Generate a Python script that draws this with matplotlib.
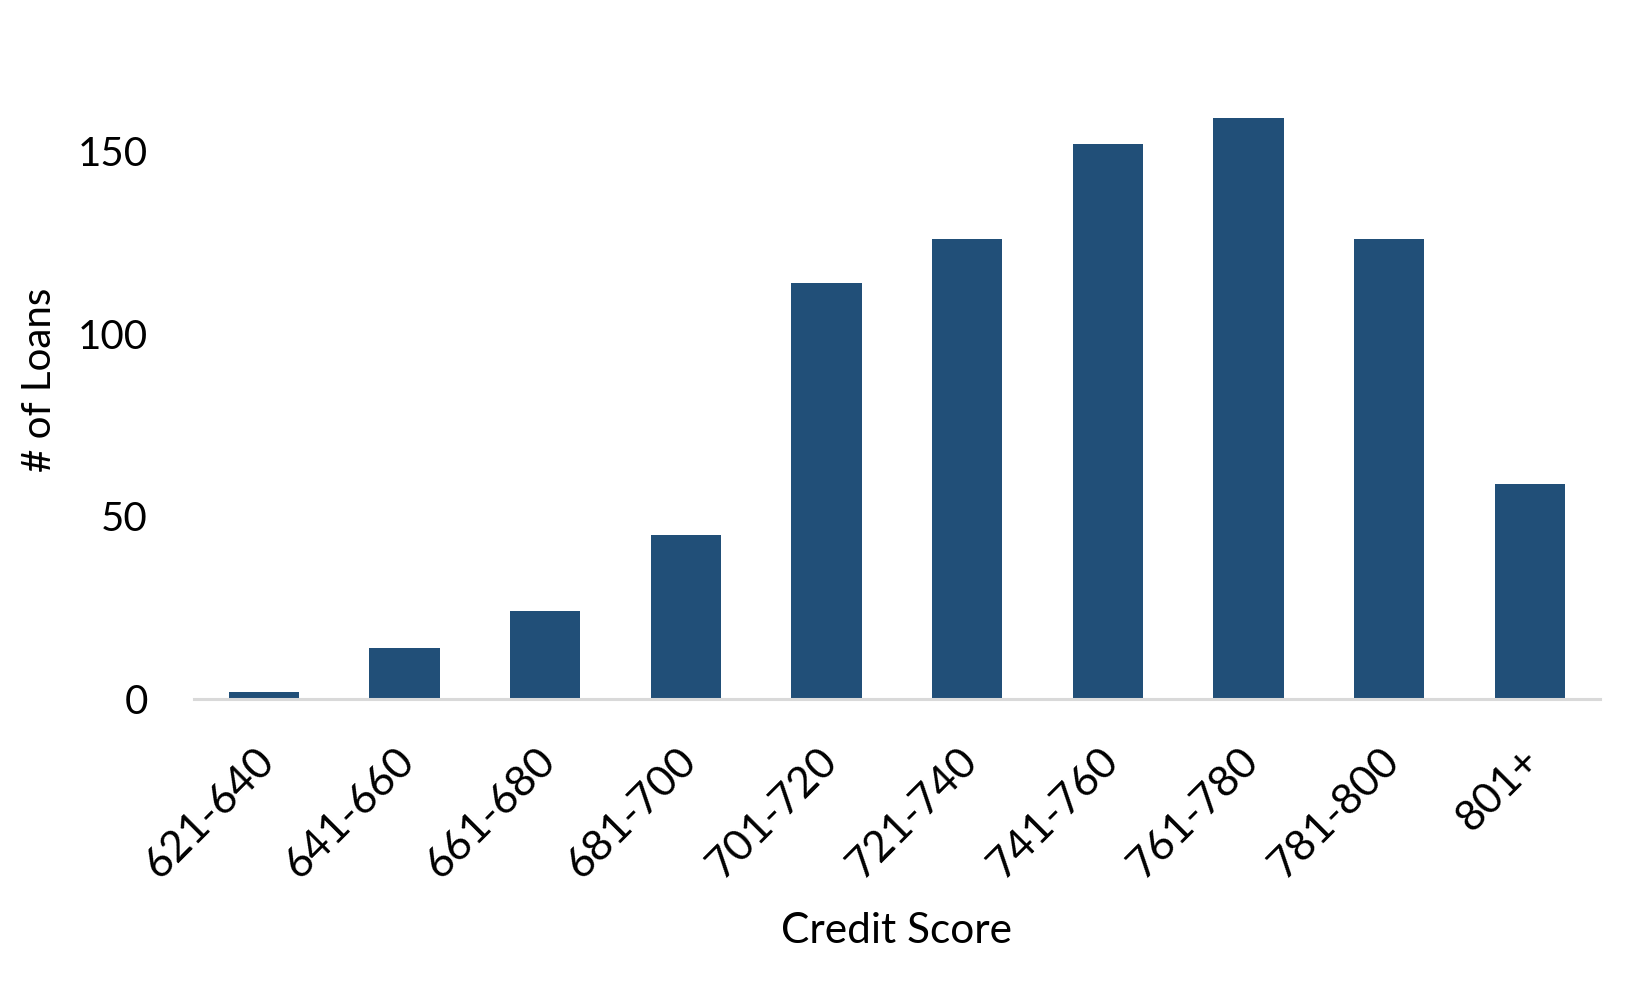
import matplotlib
matplotlib.use("Agg")
import matplotlib.pyplot as plt
import matplotlib.transforms as mtransforms

categories = ["621-640", "641-660", "661-680", "681-700", "701-720",
              "721-740", "741-760", "761-780", "781-800", "801+"]
loans = [2, 14, 24, 45, 114, 126, 152, 159, 126, 59]
y_ticks = [0, 50, 100, 150]

plt.rcParams['font.family'] = ['Lato', 'DejaVu Sans']

fig = plt.figure(figsize=(16.51, 9.9), dpi=100)
left, right = 0.1173, 0.9693
bottom, top = 0.2939, 0.9394
ax = fig.add_axes([left, bottom, right - left, top - bottom])

x = list(range(len(categories)))
ax.bar(x, loans, width=0.5, color="#214F78", zorder=2)
ax.set_xlim(-0.5, len(categories) - 0.5)
ax.set_ylim(0, 175)
ax.set_yticks(y_ticks)
ax.set_xticks(x)
ax.set_xticklabels(categories, rotation=45, ha='right', rotation_mode='anchor')

for s in ['top', 'right', 'left']:
    ax.spines[s].set_visible(False)
ax.spines['bottom'].set_color('#D9D9D9')
ax.spines['bottom'].set_linewidth(2.2)
ax.tick_params(axis='both', length=0)
ax.tick_params(axis='y', pad=33, labelsize=29)
ax.tick_params(axis='x', pad=30, labelsize=31)

offset = mtransforms.ScaledTranslation(-0.095, 0, fig.dpi_scale_trans)
for lbl in ax.get_xticklabels():
    lbl.set_transform(lbl.get_transform() + offset)

ax.set_ylabel("# of Loans", fontsize=29, labelpad=14)
ax.set_xlabel("Credit Score", fontsize=30.5, labelpad=20)

fig.savefig("out.png", dpi=100, facecolor='white')
